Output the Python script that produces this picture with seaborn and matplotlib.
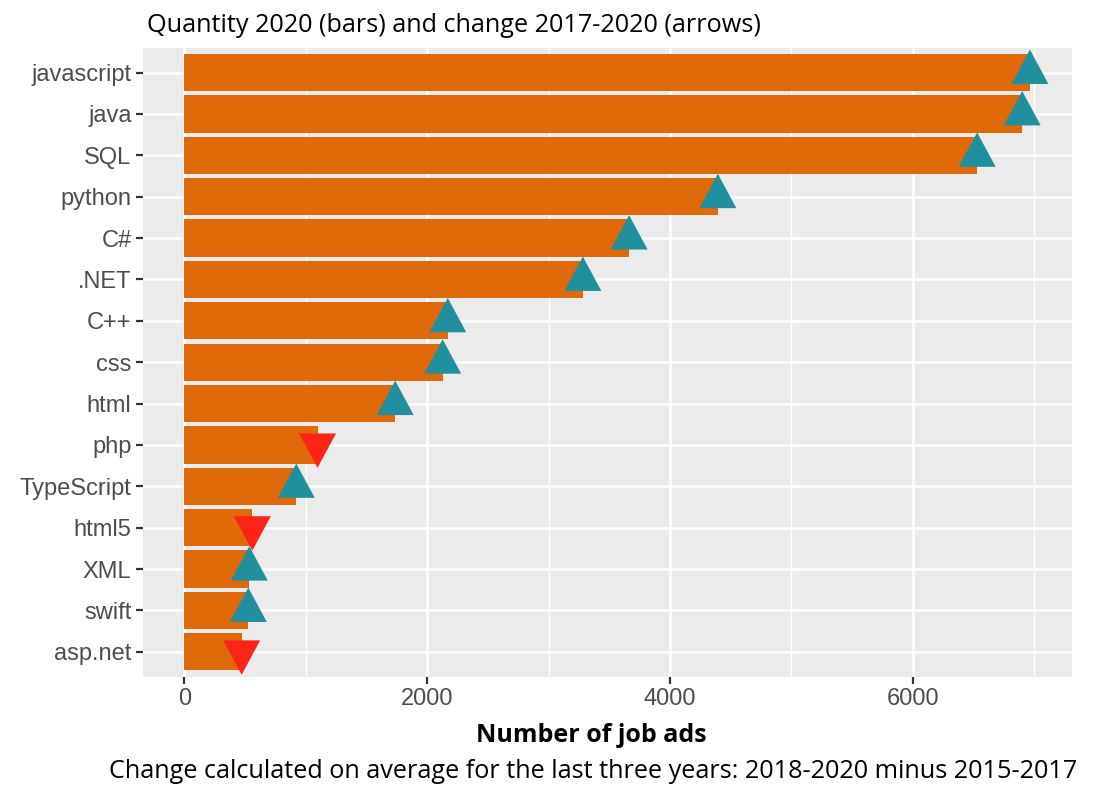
import matplotlib
matplotlib.use("Agg")
import matplotlib.pyplot as plt
from matplotlib.path import Path
from matplotlib.ticker import MultipleLocator
import seaborn as sns
import pandas as pd

# ---- data ----
languages = ["javascript", "java", "SQL", "python", "C#", ".NET", "C++", "css",
             "html", "php", "TypeScript", "html5", "XML", "swift", "asp.net"]
quantity_2020 = [6966, 6902, 6531, 4395, 3664, 3283, 2170, 2128,
                 1737, 1097, 922, 560, 535, 527, 472]
change_direction = ["up", "up", "up", "up", "up", "up", "up", "up",
                    "up", "down", "up", "down", "up", "up", "down"]

title_text = "Quantity 2020 (bars) and change 2017-2020 (arrows)"
xlabel_text = "Number of job ads"
caption_text = "Change calculated on average for the last three years: 2018-2020 minus 2015-2017"

df = pd.DataFrame({"language": languages, "quantity": quantity_2020,
                   "direction": change_direction})

BAR = "#E0690A"
UP = "#21909E"
DOWN = "#FF2418"

sns.set_theme(style="darkgrid")
plt.rcParams["font.family"] = ["Liberation Sans", "DejaVu Sans"]

fig = plt.figure(figsize=(11.16, 8.05), dpi=100)
ax = fig.add_axes([142.7 / 1116, 1 - 676.7 / 805, (1071.7 - 142.7) / 1116, (676.7 - 47.7) / 805])
ax.set_facecolor("#EBEBEB")

sns.barplot(data=df, x="quantity", y="language", orient="h", color=BAR,
            saturation=1, width=0.9, ax=ax, linewidth=0, zorder=2)

# centroid-centred triangles (like ggplot shape 17)
up_tri = Path([(0, 22.9), (-18.5, -11.5), (18.5, -11.5), (0, 22.9)],
              [Path.MOVETO, Path.LINETO, Path.LINETO, Path.CLOSEPOLY])
down_tri = Path([(0, -22.9), (-18.5, 11.5), (18.5, 11.5), (0, -22.9)],
                [Path.MOVETO, Path.LINETO, Path.LINETO, Path.CLOSEPOLY])
ms = 22.9 / (100 / 72) * 2
sns.scatterplot(data=df, x="quantity", y="language", hue="direction", style="direction",
                markers={"up": up_tri, "down": down_tri},
                palette={"up": UP, "down": DOWN}, s=ms ** 2, linewidth=0,
                legend=False, ax=ax, zorder=3)

ax.set_xlim(-343, 7310)
ax.set_ylim(len(languages) - 0.4, -0.6)
ax.xaxis.set_major_locator(MultipleLocator(2000))
ax.xaxis.set_minor_locator(MultipleLocator(1000))
ax.grid(which="major", color="white", linewidth=1.9, zorder=0)
ax.grid(which="minor", axis="x", color="white", linewidth=0.9, zorder=0)
ax.set_axisbelow(True)
for s in ax.spines.values():
    s.set_visible(False)

ax.tick_params(axis="both", which="major", length=5, width=1.6, color="#333333",
               labelcolor="#4D4D4D", labelsize=17, pad=3, left=True, bottom=True)
ax.tick_params(axis="x", which="minor", length=0)
ax.set_xlabel("")
ax.set_ylabel("")

txt_family = ["Open Sans", "Noto Sans", "DejaVu Sans"]
fig.text(147 / 1116, 1 - 25 / 805, title_text, ha="left", va="center",
         fontsize=18.2, family=txt_family, color="black")
fig.text(591.5 / 1116, 1 - 735 / 805, xlabel_text, ha="center", va="center",
         fontsize=18, fontweight="bold", family=txt_family, color="black")
fig.text(1077 / 1116, 1 - 771 / 805, caption_text, ha="right", va="center",
         fontsize=18.2, family=txt_family, color="black")

fig.savefig("out.png", dpi=100, facecolor="white")
